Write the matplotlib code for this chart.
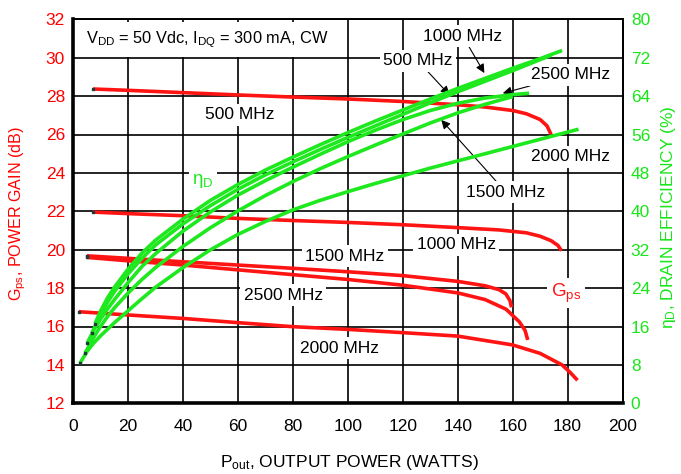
import matplotlib
matplotlib.use('Agg')
import matplotlib.pyplot as plt
from matplotlib import font_manager

FONT = 'Liberation Sans'
_names = {f.name for f in font_manager.fontManager.ttflist}
NARROW = 'Liberation Sans Narrow' if 'Liberation Sans Narrow' in _names else FONT
plt.rcParams['font.family'] = [FONT, 'DejaVu Sans']
plt.rcParams['mathtext.fontset'] = 'custom'
plt.rcParams['mathtext.rm'] = FONT
plt.rcParams['mathtext.it'] = FONT
plt.rcParams['mathtext.bf'] = FONT

RED = '#ff1414'
GREEN = '#1ee81e'
TICK_RED = '#ff0000'
TICK_GREEN = '#18e618'
DARK = '#1f3a3a'

# ---------------- data ----------------
x_ticks = [0, 20, 40, 60, 80, 100, 120, 140, 160, 180, 200]
gain_ticks = [12, 14, 16, 18, 20, 22, 24, 26, 28, 30, 32]
eff_ticks = [0, 8, 16, 24, 32, 40, 48, 56, 64, 72, 80]

# Power gain curves (Pout W, Gps dB)
gain_500_pout = [7.2, 20, 40, 60, 80, 100, 120, 140, 150, 160, 165, 170, 172.5, 174]
gain_500_db = [28.37, 28.3, 28.18, 28.06, 27.95, 27.85, 27.72, 27.55, 27.43, 27.25, 27.08, 26.78, 26.45, 26.0]

gain_1000_pout = [7, 20, 40, 60, 80, 100, 120, 140, 155, 165, 170, 174, 176.5, 177.8]
gain_1000_db = [21.96, 21.88, 21.77, 21.63, 21.52, 21.42, 21.3, 21.15, 21.03, 20.88, 20.7, 20.47, 20.22, 19.95]

gain_1500_pout = [5, 20, 40, 60, 80, 100, 120, 140, 150, 155, 157.5, 159, 159.6]
gain_1500_db = [19.68, 19.55, 19.37, 19.2, 19.03, 18.85, 18.65, 18.35, 18.12, 17.92, 17.7, 17.35, 17.0]

gain_2500_pout = [5, 20, 40, 60, 80, 100, 120, 140, 150, 157.6, 162.4, 164.5, 165.5]
gain_2500_db = [19.6, 19.42, 19.2, 18.95, 18.7, 18.45, 18.15, 17.75, 17.4, 16.9, 16.25, 15.8, 15.3]

gain_2000_pout = [2, 20, 40, 60, 80, 100, 120, 140, 160, 170, 178, 181, 183.6]
gain_2000_db = [16.77, 16.6, 16.42, 16.2, 15.99, 15.85, 15.68, 15.5, 15.04, 14.6, 14.0, 13.6, 13.2]

# Drain efficiency curves (Pout W, eta %)
eff_500_pout = [6.7, 10, 12.5, 15, 20, 25, 30, 40, 50, 60, 70, 80, 90, 100, 110, 120, 130, 140, 150, 160, 170, 174]
eff_500 = [14.6, 18.5, 21.1, 23.3, 27.0, 30.2, 33.0, 37.4, 41.2, 44.6, 47.6, 50.3, 52.9, 55.4, 57.8, 60.2,
           62.6, 64.9, 67.1, 69.3, 71.6, 72.5]

eff_1000_pout = [7.9, 10, 12.5, 15, 20, 25, 30, 40, 50, 60, 70, 80, 90, 100, 110, 120, 130, 140, 150, 160, 170, 178]
eff_1000 = [16.6, 19.3, 22.0, 24.2, 28.0, 31.3, 34.0, 38.4, 42.3, 45.6, 48.6, 51.3, 53.9, 56.4, 58.8, 61.1,
            63.4, 65.6, 67.7, 69.8, 71.8, 73.5]

eff_1500_pout = [4.3, 7.5, 10, 12.5, 15, 20, 25, 30, 40, 50, 60, 70, 80, 90, 100, 110, 120, 130, 140, 150, 160]
eff_1500 = [10.5, 13.8, 16.1, 18.1, 19.9, 23.0, 25.8, 28.3, 32.7, 36.6, 40.1, 43.3, 46.2, 48.9, 51.4, 53.8,
            56.1, 58.4, 60.5, 62.3, 63.9]

eff_2500_pout = [5.1, 7.5, 10, 12.5, 15, 20, 25, 30, 40, 50, 60, 70, 80, 90, 100, 110, 120, 130, 140, 150, 160, 166]
eff_2500 = [12.6, 15.3, 17.6, 19.7, 21.6, 25.2, 28.5, 31.2, 35.9, 39.9, 43.4, 46.4, 49.2, 51.9, 54.5, 56.9,
            59.1, 61.0, 62.5, 63.6, 64.3, 64.6]

eff_2000_pout = [2.4, 5, 7.5, 10, 15, 20, 25, 30, 40, 50, 60, 70, 80, 90, 100, 110, 120, 130, 140, 150, 160, 170, 184]
eff_2000 = [8.3, 10.8, 12.6, 14.1, 16.8, 19.3, 21.8, 24.2, 28.3, 32.0, 35.2, 37.9, 40.3, 42.3, 44.1, 45.8,
            47.4, 49.0, 50.5, 52.0, 53.5, 55.0, 57.1]

gain_curves = [(gain_500_pout, gain_500_db), (gain_1000_pout, gain_1000_db),
               (gain_1500_pout, gain_1500_db), (gain_2500_pout, gain_2500_db),
               (gain_2000_pout, gain_2000_db)]
eff_curves = [(eff_500_pout, eff_500), (eff_1000_pout, eff_1000),
              (eff_1500_pout, eff_1500), (eff_2500_pout, eff_2500),
              (eff_2000_pout, eff_2000)]

# ---------------- figure ----------------
W, H = 681, 474
fig = plt.figure(figsize=(W / 100, H / 100), dpi=100)
L, R, B, T = 73.3, 622.5, 403.3, 19.3
ax = fig.add_axes([L / W, 1 - B / H, (R - L) / W, (B - T) / H])
ax.set_xlim(0, 200)
ax.set_ylim(12, 32)
ax.set_xticks(x_ticks)
ax.set_yticks(gain_ticks)
ax.grid(True, color='black', lw=1.2)
ax.set_axisbelow(True)
ax.tick_params(axis='both', length=0, labelsize=12.5)
ax.tick_params(axis='x', pad=11, labelcolor='black')
ax.tick_params(axis='y', pad=6, labelcolor=TICK_RED)
for s in ['left', 'bottom']:
    ax.spines[s].set_linewidth(2.6)
for s in ['top', 'right']:
    ax.spines[s].set_linewidth(1.4)

for px, g in gain_curves:
    ax.plot(px, g, color=RED, lw=2.6, zorder=4, solid_capstyle='butt', solid_joinstyle='round')
    ax.plot(px[:1], g[:1], 's', ms=2.0, color=DARK, zorder=5)

ax2 = ax.twinx()
ax2.set_ylim(0, 80)
ax2.set_yticks(eff_ticks)
ax2.tick_params(axis='y', length=0, labelsize=12.5, pad=6, labelcolor=TICK_GREEN)
for s in ['left', 'bottom', 'top']:
    ax2.spines[s].set_visible(False)
ax2.spines['right'].set_linewidth(1.4)
for px, e in eff_curves:
    ax2.plot(px, e, color=GREEN, lw=2.6, zorder=4, solid_capstyle='butt', solid_joinstyle='round')
    ax2.plot(px[:1], e[:1], 's', ms=1.8, color=DARK, zorder=5)

box = dict(facecolor='white', edgecolor='none', pad=2.5)
fs = 12.5
ax.text(4.5, 30.95, r'V$_{\rm DD}$ = 50 Vdc, I$_{\rm DQ}$ = 300 mA, CW', fontsize=11.8,
        ha='left', va='center', bbox=dict(facecolor='white', edgecolor='none', pad=5), zorder=3)

arrow = dict(arrowstyle='-|>', color='black', lw=0.8, mutation_scale=13,
             shrinkA=0, shrinkB=0)
ax.annotate('1000 MHz', xy=(149.7, 29.2), xytext=(141.8, 31.13), fontsize=fs,
            ha='center', va='center', bbox=box, arrowprops=arrow, zorder=6)
ax.annotate('500 MHz', xy=(137, 28.06), xytext=(125.5, 29.83), fontsize=fs,
            ha='center', va='center', bbox=box, arrowprops=arrow, zorder=6)
ax.annotate('2500 MHz', xy=(156.4, 28.15), xytext=(181.2, 29.1), fontsize=fs,
            ha='center', va='center', bbox=box, arrowprops=arrow, zorder=6)
ax.annotate('1500 MHz', xy=(134, 26.76), xytext=(157.6, 22.99), fontsize=fs,
            ha='center', va='center', bbox=box, arrowprops=arrow, zorder=6)
ax.text(181, 24.84, '2000 MHz', fontsize=fs, ha='center', va='center', bbox=box, zorder=3)
ax.text(60.6, 27.02, '500 MHz', fontsize=fs, ha='center', va='center', bbox=box, zorder=3)
ax.text(47.3, 23.6, r'η$_{\rm D}$', fontsize=fs + 1, color=GREEN, ha='center', va='center',
        bbox=box, zorder=3)
ax.text(139.4, 20.25, '1000 MHz', fontsize=fs, ha='center', va='center', bbox=box, zorder=3)
ax.text(98.8, 19.67, '1500 MHz', fontsize=fs, ha='center', va='center', bbox=box, zorder=3)
ax.text(76.4, 17.64, '2500 MHz', fontsize=fs, ha='center', va='center', bbox=box, zorder=3)
ax.text(97, 14.86, '2000 MHz', fontsize=fs, ha='center', va='center', bbox=box, zorder=3)
ax.text(179.4, 17.73, r'G$_{\rm ps}$', fontsize=fs + 1, color=RED, ha='center', va='center',
        bbox=box, zorder=3)

left_size = 13 if NARROW != FONT else 11.6
fig.text(18 / W, 1 - 214 / H, r'G$_{\rm ps}$, POWER GAIN (dB)', rotation=90, color=TICK_RED,
         fontsize=left_size, family=[NARROW, 'DejaVu Sans'], ha='center', va='center')
fig.text(668 / W, 1 - 217 / H, r'η$_{\rm D}$, DRAIN EFFICIENCY (%)', rotation=90, color=TICK_GREEN,
         fontsize=12.5, ha='center', va='center')
fig.text(349 / W, 1 - 462 / H, r'P$_{\rm out}$, OUTPUT POWER (WATTS)', color='black',
         fontsize=12.5, ha='center', va='center')

fig.savefig('out.png', dpi=100)
